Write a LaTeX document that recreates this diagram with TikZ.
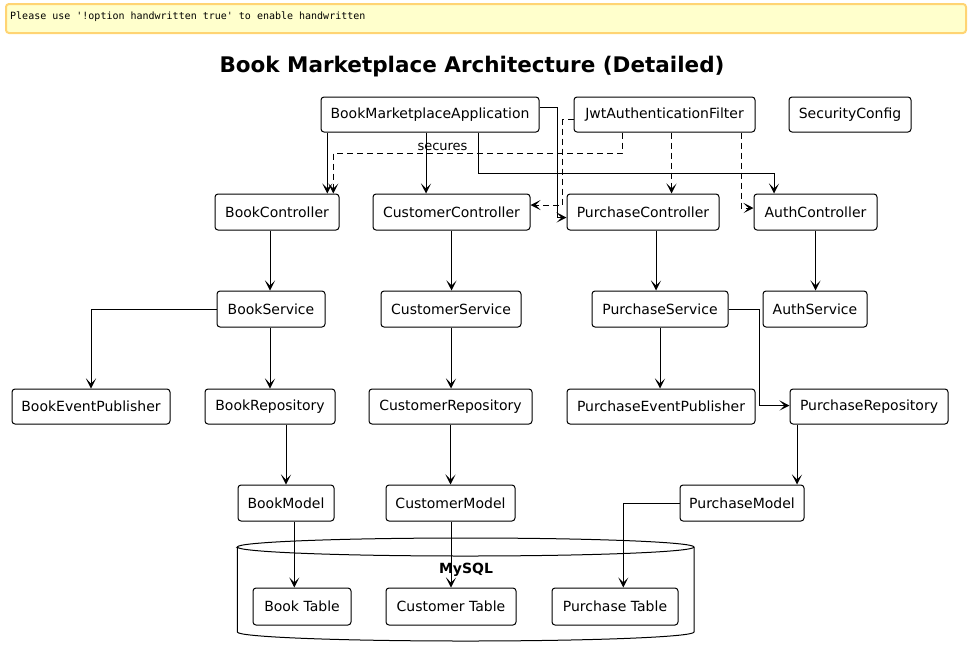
\documentclass[tikz,border=0pt]{standalone}
\usepackage{fontspec}
\setmainfont{DejaVu Sans}
\setmonofont{DejaVu Sans Mono}
\usetikzlibrary{arrows.meta,calc}
\begin{document}
\begin{tikzpicture}[x=1pt,y=-1pt,
  box/.style={draw=black,line width=1pt,rounded corners=3pt,fill=white,inner sep=0pt,font=\fontsize{14}{16}\selectfont},
  arr/.style={line width=1pt,-{Stealth[length=10pt,width=10pt,inset=5pt]}},
  darr/.style={arr,dash pattern=on 6pt off 4pt}]
\useasboundingbox (0,0) rectangle (968,657);
% note
\node[draw={rgb,255:red,255;green,212;blue,115},line width=2pt,fill={rgb,255:red,255;green,255;blue,204},rounded corners=3pt,minimum width=960pt,minimum height=29pt,inner sep=0pt,anchor=north west] (note) at (5,3) {};
\node[anchor=west,font=\ttfamily\fontsize{10}{12}\selectfont,inner sep=0pt] (notetxt) at (10,17) {Please use '!option handwritten true' to enable handwritten};
% title
\node[font=\bfseries\fontsize{21.5}{25}\selectfont,inner sep=0pt] (title) at (472,66.5) {Book Marketplace Architecture (Detailed)};
% database cylinder
\draw[line width=1pt,fill=white] (237.3,547) -- (237.3,632) arc[start angle=180,end angle=0,x radius=228.35,y radius=9] -- (694,547) arc[start angle=0,end angle=-180,x radius=228.35,y radius=9] -- cycle;
\draw[line width=1pt] (237.3,547) arc[start angle=180,end angle=0,x radius=228.35,y radius=9];
\node[font=\bfseries\fontsize{14}{16}\selectfont,inner sep=0pt] (mysql) at (466,570) {MySQL};
% nodes
\node[box,minimum width=218pt,minimum height=35pt] (app) at (430,114.5) {BookMarketplaceApplication};
\node[box,minimum width=181pt,minimum height=35pt] (jwt) at (664.5,114.5) {JwtAuthenticationFilter};
\node[box,minimum width=122pt,minimum height=35pt] (sec) at (850,114.5) {SecurityConfig};
\node[box,minimum width=124pt,minimum height=36pt] (bc) at (277,212) {BookController};
\node[box,minimum width=157pt,minimum height=36pt] (cc) at (451.5,212) {CustomerController};
\node[box,minimum width=152pt,minimum height=36pt] (pc) at (643,212) {PurchaseController};
\node[box,minimum width=123pt,minimum height=36pt] (ac) at (815.5,212) {AuthController};
\node[box,minimum width=108pt,minimum height=36pt] (bs) at (271,309) {BookService};
\node[box,minimum width=140pt,minimum height=36pt] (cs) at (451,309) {CustomerService};
\node[box,minimum width=136pt,minimum height=36pt] (ps) at (660,309) {PurchaseService};
\node[box,minimum width=104pt,minimum height=36pt] (as) at (815,309) {AuthService};
\node[box,minimum width=158pt,minimum height=35pt] (bep) at (91,406.5) {BookEventPublisher};
\node[box,minimum width=130pt,minimum height=35pt] (br) at (270,406.5) {BookRepository};
\node[box,minimum width=163pt,minimum height=35pt] (cr) at (450.5,406.5) {CustomerRepository};
\node[box,minimum width=188pt,minimum height=35pt] (pep) at (661,406.5) {PurchaseEventPublisher};
\node[box,minimum width=158pt,minimum height=35pt] (pr) at (869,406.5) {PurchaseRepository};
\node[box,minimum width=96pt,minimum height=36pt] (bm) at (286,503) {BookModel};
\node[box,minimum width=129pt,minimum height=36pt] (cm) at (450.5,503) {CustomerModel};
\node[box,minimum width=124pt,minimum height=36pt] (pm) at (742,503) {PurchaseModel};
\node[box,minimum width=98pt,minimum height=37pt] (bt) at (302,606.5) {Book Table};
\node[box,minimum width=130pt,minimum height=37pt] (ct) at (451,606.5) {Customer Table};
\node[box,minimum width=126pt,minimum height=37pt] (pt) at (615,606.5) {Purchase Table};
% routing coordinates
\coordinate (k1) at (557,107.5);
\coordinate (k2) at (774,173);
\coordinate (k3) at (333.3,153);
\coordinate (k4) at (562.7,205);
\coordinate (k5) at (759.3,405.5);
\coordinate (k6) at (623.3,503);
\coordinate (k7) at (741,208);
% top connectors
\draw[arr] ([xshift=-102.7pt]app.south) -- ([xshift=-102.7pt]app.south |- bc.north);
\draw[arr] ([xshift=-4pt]app.south) -- ([xshift=-4pt]app.south |- cc.north);
\draw[arr] (app.east |- k1) -- (k1) |- ([yshift=-5.5pt]pc.west);
\draw[arr] ([xshift=48.3pt]app.south) |- (k2) -- (k2 |- ac.north);
\draw[darr] ([xshift=-42.2pt]jwt.south) |- (k3) -- (k3 |- bc.north);
\node[font=\fontsize{13}{15}\selectfont,inner sep=0pt] (secures) at (442.5,146.5) {secures};
\draw[darr] ([yshift=-5pt]jwt.west) -| (k4) -- (k4 -| cc.east);
\draw[darr] ([xshift=7pt]jwt.south) -- ([xshift=7pt]jwt.south |- pc.north);
\draw[darr] (k7 |- jwt.south) -- (k7) -- (k7 -| ac.west);
% middle connectors
\draw[arr] ([xshift=-7pt]bc.south) -- ([xshift=-7pt]bc.south |- bs.north);
\draw[arr] (cc.south) -- (cc.south |- cs.north);
\draw[arr] ([xshift=13pt]pc.south) -- ([xshift=13pt]pc.south |- ps.north);
\draw[arr] (ac.south) -- (ac.south |- as.north);
\draw[arr] (bs.west) -| (bep.north);
\draw[arr] ([xshift=-1pt]bs.south) -- ([xshift=-1pt]bs.south |- br.north);
\draw[arr] (cs.south) -- (cs.south |- cr.north);
\draw[arr] (ps.south) -- (ps.south |- pep.north);
\draw[arr] (ps.east) -| (k5) -- (k5 -| pr.west);
\draw[arr] (bm.north |- br.south) -- (bm.north);
\draw[arr] (cm.north |- cr.south) -- (cm.north);
\draw[arr] ([xshift=-72pt]pr.south) -- ([xshift=-72pt]pr.south |- pm.north);
\draw[arr] ([xshift=8.3pt]bm.south) -- ([xshift=8.3pt]bm.south |- bt.north);
\draw[arr] ([xshift=0.5pt]cm.south) -- ([xshift=0.5pt]cm.south |- ct.north);
\draw[arr] (pm.west) -- (k6) -- (k6 |- pt.north);
\end{tikzpicture}
\end{document}
